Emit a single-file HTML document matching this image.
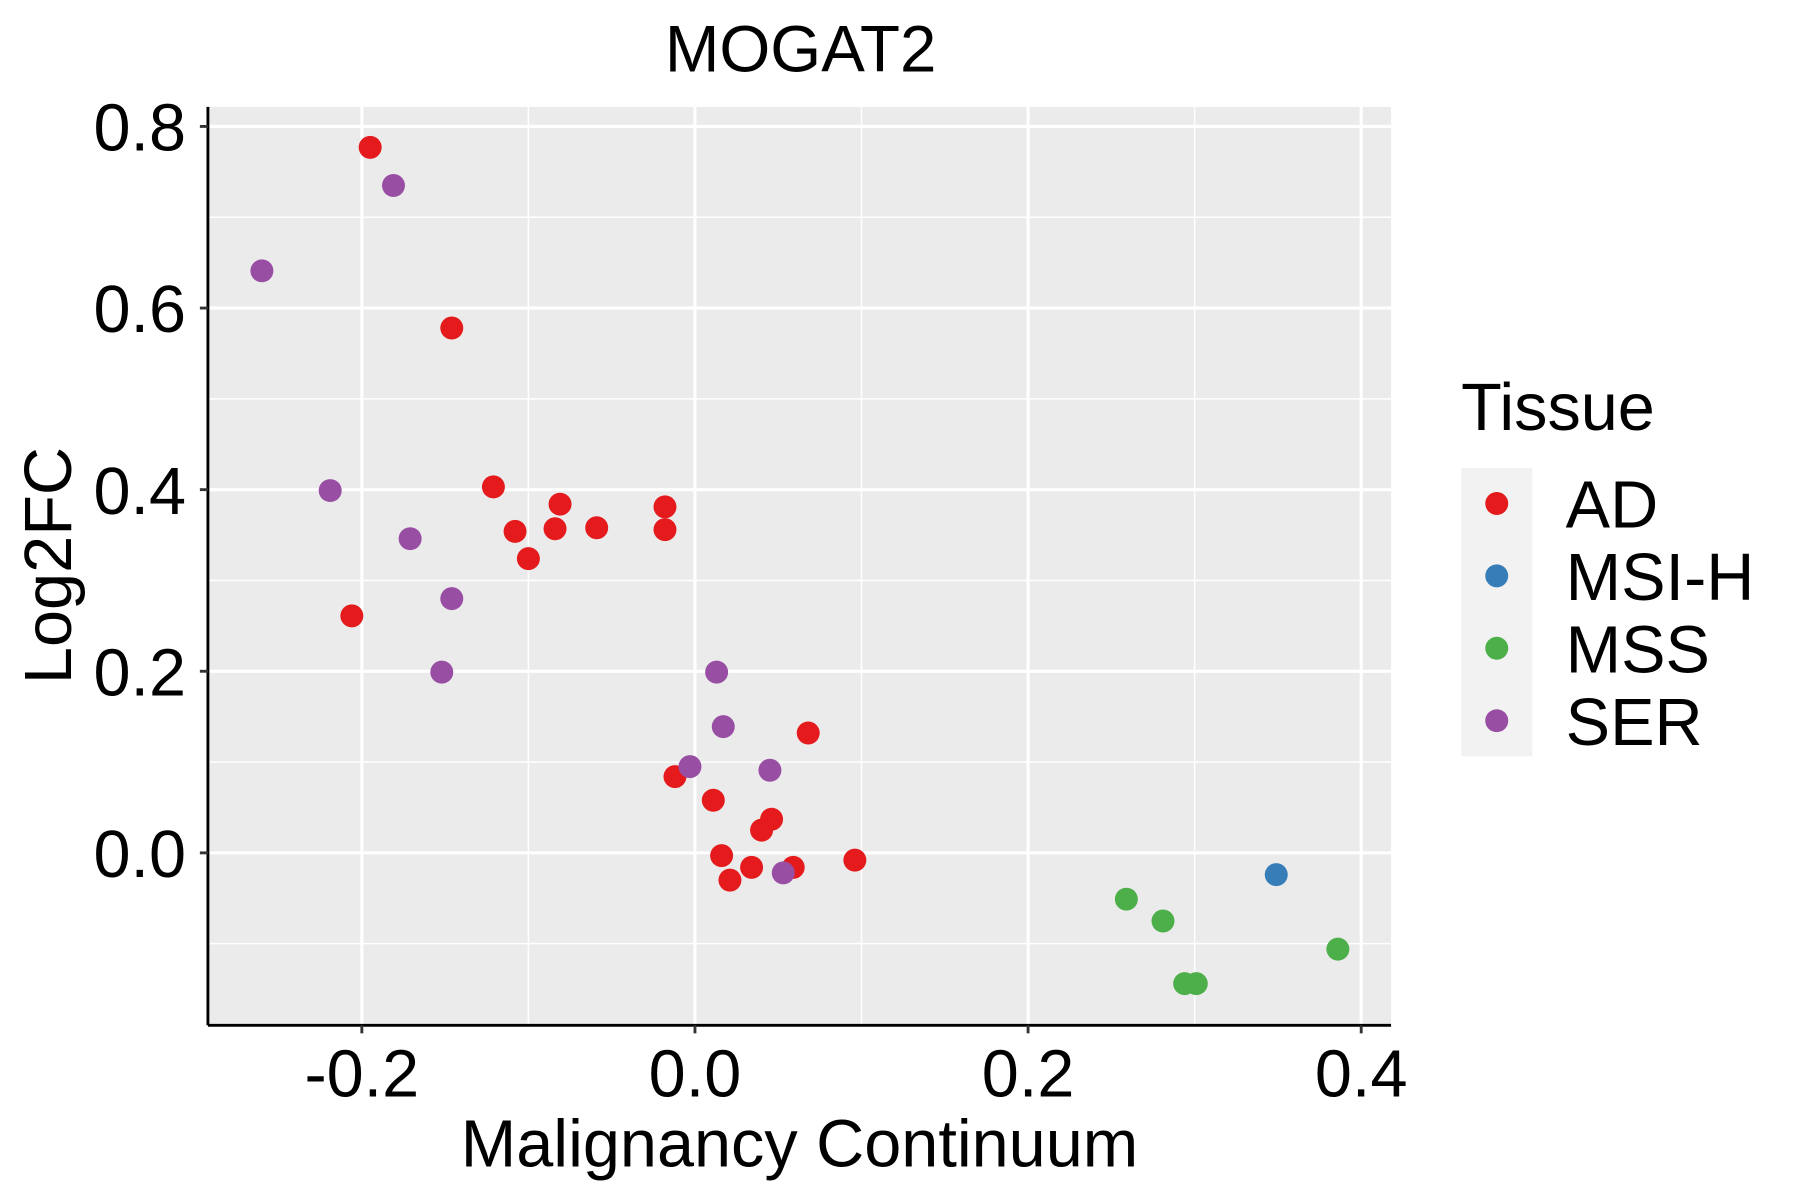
<!DOCTYPE html>
<html><head><meta charset="utf-8"><style>html,body{margin:0;padding:0;background:#fff}svg{display:block}text{font-family:"Liberation Sans",Arial,sans-serif}</style></head>
<body>
<svg id="chart" width="1800" height="1200" viewBox="0 0 1567 1044" preserveAspectRatio="none" xmlns="http://www.w3.org/2000/svg">
<rect x="181" y="93" width="1030" height="799" fill="#ebebeb"/>
<g id="grid"></g>
<g id="points"></g>
<line x1="181" y1="93" x2="181" y2="892" stroke="#000" stroke-width="2.5"/>
<line x1="181" y1="892" x2="1211" y2="892" stroke="#000" stroke-width="2.5"/>
<g id="ticks"></g>
<text x="697" y="62" font-size="57" text-anchor="middle">MOGAT2</text>
<text x="696" y="1015" font-size="58" text-anchor="middle">Malignancy Continuum</text>
<text transform="translate(62,492) rotate(-90)" font-size="58" text-anchor="middle">Log2FC</text>
<text x="1272" y="374" font-size="58">Tissue</text>
<rect x="1272" y="407" width="62" height="251" fill="#f2f2f2"/>
<g id="legend"></g>
</svg>
<script>
const categories = ["AD","MSI-H","MSS","SER"];
const colors = ["#E41A1C","#377EB8","#4DAF4A","#984EA3"];
const adX = [-0.195,-0.146,-0.206,-0.121,-0.108,-0.100,-0.084,-0.081,-0.059,-0.018,-0.018,-0.012,0.011,0.068,0.016,0.021,0.034,0.040,0.046,0.059,0.096];
const adY = [0.777,0.578,0.261,0.403,0.354,0.324,0.357,0.384,0.358,0.381,0.356,0.084,0.058,0.132,-0.003,-0.030,-0.016,0.025,0.037,-0.016,-0.008];
const msihX = [0.349];
const msihY = [-0.024];
const mssX = [0.259,0.281,0.294,0.301,0.386];
const mssY = [-0.051,-0.075,-0.144,-0.144,-0.106];
const serX = [-0.260,-0.181,-0.219,-0.171,-0.146,-0.152,0.013,0.017,-0.003,0.045,0.053];
const serY = [0.641,0.735,0.399,0.346,0.280,0.199,0.199,0.139,0.095,0.091,-0.022];
const xTicks = [-0.2,0.0,0.2,0.4];
const xTickLabels = ["-0.2","0.0","0.2","0.4"];
const xMinor = [-0.1,0.1,0.3];
const yTicks = [0.0,0.2,0.4,0.6,0.8];
const yTickLabels = ["0.0","0.2","0.4","0.6","0.8"];
const yMinor = [-0.1,0.1,0.3,0.5,0.7];

const NS="http://www.w3.org/2000/svg";
const L=181,R=1211,T=93,B=892;
function xs(v){return 605+v*1450;}
function ys(v){return 742-v*790;}
function mk(tag,attrs,parent){const e=document.createElementNS(NS,tag);for(const k in attrs)e.setAttribute(k,attrs[k]);parent.appendChild(e);return e;}
const grid=document.getElementById('grid');
xMinor.forEach(v=>{const e=mk('line',{x1:xs(v),x2:xs(v),y1:T,y2:B,stroke:'#fff','stroke-width':1.3},grid);

});
yMinor.forEach(v=>{const e=mk('line',{x1:L,x2:R,y1:ys(v),y2:ys(v),stroke:'#fff','stroke-width':1.3},grid);

});
xTicks.forEach(v=>{const e=mk('line',{x1:xs(v),x2:xs(v),y1:T,y2:B,stroke:'#fff','stroke-width':2.7},grid);

});
yTicks.forEach(v=>{const e=mk('line',{x1:L,x2:R,y1:ys(v),y2:ys(v),stroke:'#fff','stroke-width':2.7},grid);

});
const ticks=document.getElementById('ticks');
xTicks.forEach((v,i)=>{const l=mk('line',{x1:xs(v),x2:xs(v),y1:B,y2:B+7,stroke:'#333','stroke-width':2.5},ticks);


const t=mk('text',{x:xs(v),y:954,'font-size':58,'text-anchor':'middle',fill:'#000'},ticks);t.textContent=xTickLabels[i];

});
yTicks.forEach((v,i)=>{const l=mk('line',{x1:L-7,x2:L,y1:ys(v),y2:ys(v),stroke:'#333','stroke-width':2.5},ticks);


const t=mk('text',{x:162,y:ys(v)+21,'font-size':58,'text-anchor':'end',fill:'#000'},ticks);t.textContent=yTickLabels[i];

});
const pts=document.getElementById('points');
const series=[[adX,adY],[msihX,msihY],[mssX,mssY],[serX,serY]];
series.forEach((s,si)=>{s[0].forEach((xv,i)=>{const c=mk('circle',{cx:xs(xv),cy:ys(s[1][i]),r:10,fill:colors[si]},pts);

});});
const lg=document.getElementById('legend');
categories.forEach((c,i)=>{const y=438+i*63;
const d=mk('circle',{cx:1303,cy:y,r:10,fill:colors[i]},lg);


const t=mk('text',{x:1363,y:y+21,'font-size':58},lg);t.textContent=c;

});
</script>
</body></html>
